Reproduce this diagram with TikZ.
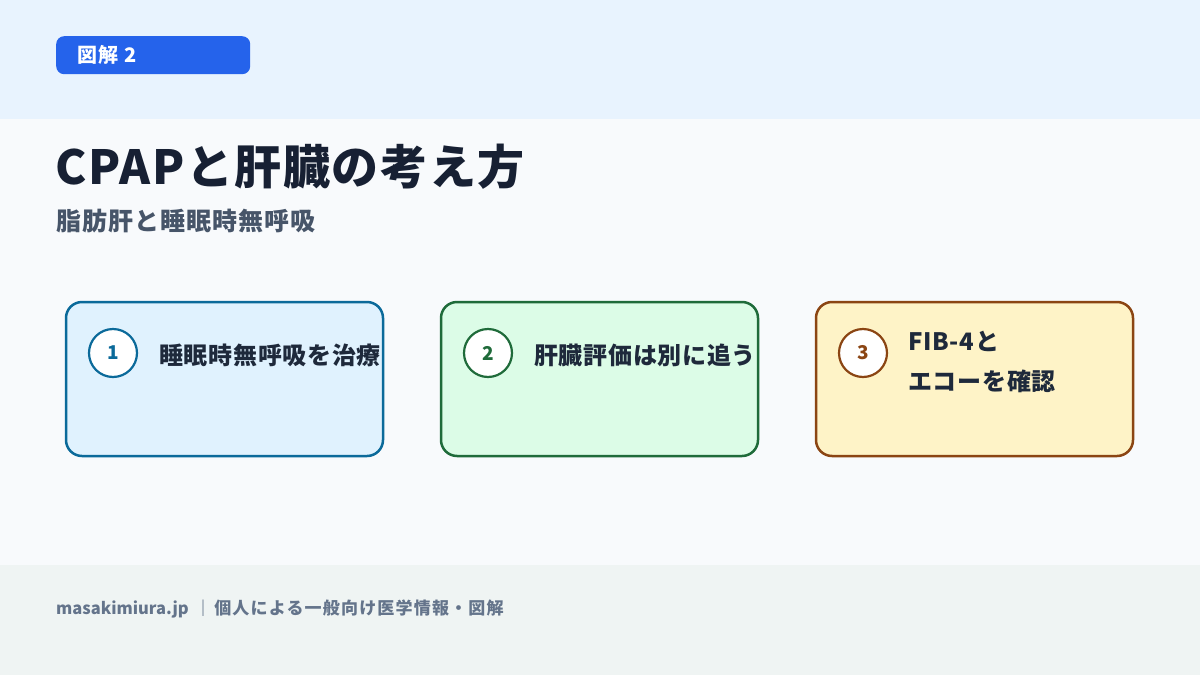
\documentclass[tikz,border=0pt]{standalone}
\usepackage{fontspec}
\setmainfont{Noto Sans CJK JP}
\definecolor{hdrbg}{HTML}{E8F3FE}
\definecolor{bodybg}{HTML}{F8FAFC}
\definecolor{footbg}{HTML}{EFF4F3}
\definecolor{badge}{HTML}{2563EB}
\definecolor{titlec}{HTML}{172033}
\definecolor{subc}{HTML}{475569}
\definecolor{footc}{HTML}{64748B}
\definecolor{textc}{HTML}{1E293B}
\definecolor{bfillA}{HTML}{E0F2FE}
\definecolor{bdrawA}{HTML}{0B6A9A}
\definecolor{bfillB}{HTML}{DCFCE7}
\definecolor{bdrawB}{HTML}{1F6B3A}
\definecolor{bfillC}{HTML}{FEF3C7}
\definecolor{bdrawC}{HTML}{8B4513}
\tikzset{
  card/.style={draw=#1, line width=2.5pt, rounded corners=16pt, minimum width=317pt, minimum height=154pt, inner sep=0pt},
  numc/.style={circle, draw=#1, fill=white, line width=2.2pt, minimum size=48pt, inner sep=0pt, text=#1, font=\fontsize{19}{22}\selectfont\bfseries},
  cardtext/.style={anchor=west, text=textc, font=\fontsize{24}{40}\selectfont\bfseries\addfontfeatures{LetterSpace=3}, align=left, inner sep=0pt}
}
\begin{document}
\begin{tikzpicture}[x=1pt,y=-1pt]
\useasboundingbox (0,0) rectangle (1200,675);
\fill[bodybg] (0,0) rectangle (1200,675);
\fill[hdrbg] (0,0) rectangle (1200,119);
\fill[footbg] (0,565) rectangle (1200,675);
% badge
\node[fill=badge, rounded corners=8pt, minimum width=194pt, minimum height=38pt, inner sep=0pt, anchor=north west] (badge) at (56,36) {};
\node[anchor=west, text=white, font=\fontsize{20}{22}\selectfont\bfseries\addfontfeatures{LetterSpace=6}, inner sep=0pt] (badgetxt) at (77,55) {図解 2};
% title
\node[anchor=base west, text=titlec, font=\fontsize{47}{50}\selectfont\bfseries\addfontfeatures{LetterSpace=3.5}, inner sep=0pt] (title) at (55,184) {CPAPと肝臓の考え方};
\node[anchor=base west, text=subc, font=\fontsize{25}{28}\selectfont\bfseries\addfontfeatures{LetterSpace=4}, inner sep=0pt] (sub) at (56,230) {脂肪肝と睡眠時無呼吸};
% cards
\node[card=bdrawA, fill=bfillA] (c1) at (224.5,379) {};
\node[card=bdrawB, fill=bfillB] (c2) at (599.5,379) {};
\node[card=bdrawC, fill=bfillC] (c3) at (974.5,379) {};
\node[numc=bdrawA] (n1) at (113,353) {1};
\node[numc=bdrawB] (n2) at (488,353) {2};
\node[numc=bdrawC] (n3) at (863,353) {3};
\node[cardtext] (t1) at (159,355) {睡眠時無呼吸を治療};
\node[cardtext] (t2) at (534,355) {肝臓評価は別に追う};
\node[cardtext, anchor=north west] (t3) at (908,331) {FIB-4と\\エコーを確認};
% footer
\node[anchor=west, text=footc, font=\fontsize{16.5}{20}\selectfont\bfseries, inner sep=0pt] (foot) at (56,609) {masakimiura.jp\hspace{6pt}｜\hspace{3pt}{\fontsize{17}{20}\selectfont\addfontfeatures{LetterSpace=7}個人による一般向け医学情報・図解}};
\end{tikzpicture}
\end{document}
